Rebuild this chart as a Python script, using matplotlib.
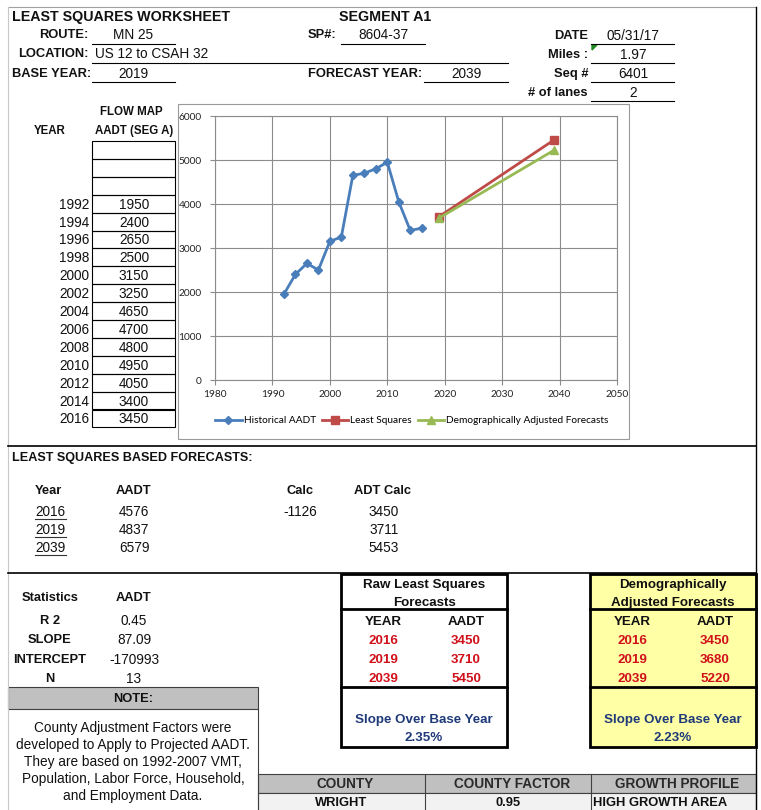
import matplotlib
matplotlib.use("Agg")
import matplotlib.pyplot as plt
from matplotlib.patches import Rectangle
from matplotlib.lines import Line2D

plt.rcParams['font.family'] = ['Liberation Sans', 'DejaVu Sans']

# ---- data ----
hist_years = [1992, 1994, 1996, 1998, 2000, 2002, 2004, 2006, 2008, 2010, 2012, 2014, 2016]
hist_aadt = [1950, 2400, 2650, 2500, 3150, 3250, 4650, 4700, 4800, 4950, 4050, 3400, 3450]
lsq_years = [2019, 2039]
lsq_aadt = [3711, 5453]
demo_years = [2019, 2039]
demo_aadt = [3680, 5220]

fc_years = ['2016', '2019', '2039']
fc_aadt = ['4576', '4837', '6579']
fc_adt_calc = ['3450', '3711', '5453']
calc_value = '-1126'

stat_names = ['R 2', 'SLOPE', 'INTERCEPT', 'N']
stat_values = ['0.45', '87.09', '-170993', '13']

raw_years = ['2016', '2019', '2039']
raw_aadt = ['3450', '3710', '5450']
demo_tab_aadt = ['3450', '3680', '5220']
raw_slope = '2.35%'
demo_slope = '2.23%'

header_fields = {
    'route': 'MN 25', 'sp': '8604-37', 'date': '05/31/17',
    'location': 'US 12 to CSAH 32', 'miles': '1.97',
    'base': '2019', 'forecast': '2039', 'seq': '6401', 'lanes': '2',
}

county_cols = ['COUNTY', 'COUNTY FACTOR', 'GROWTH PROFILE']
county_vals = ['WRIGHT', '0.95', 'HIGH GROWTH AREA']

note_lines = ['County Adjustment Factors were',
              'developed to Apply to Projected AADT.',
              'They are based on 1992-2007 VMT,',
              'Population, Labor Force, Household,',
              'and Employment Data.']

W, H = 761, 810
fig = plt.figure(figsize=(W / 100, H / 100), dpi=100)
bg = fig.add_axes([0, 0, 1, 1])
bg.set_xlim(0, W)
bg.set_ylim(H, 0)
bg.axis('off')

RED = '#d0101a'
NAVY = '#1f3a78'
LBL = 9.3   # bold labels
VAL = 9.8   # regular values
BOX = 9.6   # bold text in forecast boxes


def txt(x, y, s, ha='left', bold=False, size=None, color='#111111', **kw):
    if size is None:
        size = LBL if bold else VAL
    # +1 px: va='center' includes descender, nudge down to look centred
    bg.text(x, y + 1, s, ha=ha, va='center', fontsize=size, color=color,
            fontweight='bold' if bold else 'normal', **kw)


def hline(x0, x1, y, lw=0.8, color='black'):
    bg.add_line(Line2D([x0, x1], [y, y], lw=lw, color=color))


def vline(x, y0, y1, lw=0.8, color='black'):
    bg.add_line(Line2D([x, x], [y0, y1], lw=lw, color=color))


def rect(x0, y0, x1, y1, fc='none', ec='black', lw=0.8):
    bg.add_patch(Rectangle((x0, y0), x1 - x0, y1 - y0, fc=fc, ec=ec, lw=lw))


# outer frame
hline(8, 756, 7, color='#a0a0a0')
vline(8, 7, 810, color='#c8c8c8')
vline(756, 7, 810, lw=1.0)

# ---- header ----
txt(12, 16, 'LEAST SQUARES WORKSHEET', bold=True, size=10.3)
txt(385, 16, 'SEGMENT A1', ha='center', bold=True, size=10.3)

txt(89, 34, 'ROUTE:', ha='right', bold=True)
txt(133, 34, header_fields['route'], ha='center')
hline(92, 175, 44)
txt(336, 34, 'SP#:', ha='right', bold=True)
txt(383, 34, header_fields['sp'], ha='center')
hline(341, 425, 44)
txt(588, 35, 'DATE', ha='right', bold=True)
txt(633, 35, header_fields['date'], ha='center')
hline(591, 674, 44)

txt(89, 53, 'LOCATION:', ha='right', bold=True)
txt(95, 53, header_fields['location'])
hline(92, 508, 63)
txt(588, 54, 'Miles :', ha='right', bold=True)
txt(633, 54, header_fields['miles'], ha='center')
hline(591, 674, 63)
bg.add_patch(plt.Polygon([[592, 45], [597, 45], [592, 50]], color='#1f8a1f'))

txt(12, 73, 'BASE YEAR:', bold=True)
txt(133, 73, header_fields['base'], ha='center')
hline(92, 175, 82)
txt(422, 73, 'FORECAST YEAR:', ha='right', bold=True)
txt(466, 73, header_fields['forecast'], ha='center')
hline(424, 508, 82)
txt(588, 73, 'Seq #', ha='right', bold=True)
txt(633, 73, header_fields['seq'], ha='center')
hline(591, 674, 82)
txt(588, 92, '# of lanes', ha='right', bold=True)
txt(633, 92, header_fields['lanes'], ha='center')
hline(591, 674, 101)

# ---- flow map table ----
txt(131, 111, 'FLOW MAP', ha='center', bold=True, size=8.3)
txt(50, 130, 'YEAR', ha='center', bold=True, size=8.3)
txt(134, 130, 'AADT (SEG A)', ha='center', bold=True, size=8.3)
row_top = 141
row_h = 17.9
n_blank = 3
for i in range(n_blank + len(hist_years)):
    y0 = row_top + i * row_h
    rect(92, y0, 175, y0 + row_h)
for i, (yr, v) in enumerate(zip(hist_years, hist_aadt)):
    yc = row_top + (i + n_blank + 0.5) * row_h
    txt(89, yc, str(yr), ha='right')
    txt(134, yc, str(v), ha='center')

# ---- chart ----
rect(178, 104, 629, 439, ec='#9a9a9a')
ax = fig.add_axes([215 / W, 1 - 380 / H, (617 - 215) / W, (380 - 116) / H])
ax.plot(hist_years, hist_aadt, color='#4a7ebb', lw=2, marker='D', ms=4.5,
        label='Historical AADT')
ax.plot(lsq_years, lsq_aadt, color='#be4b48', lw=2, marker='s', ms=5.5,
        label='Least Squares')
ax.plot(demo_years, demo_aadt, color='#98b954', lw=2, marker='^', ms=6,
        label='Demographically Adjusted Forecasts')
ax.set_xlim(1980, 2050)
ax.set_ylim(0, 6000)
ax.set_xticks(range(1980, 2051, 10))
ax.set_yticks(range(0, 6001, 1000))
ax.grid(True, color='#8c8c8c', lw=0.8)
ax.set_axisbelow(True)
for s in ax.spines.values():
    s.set_color('#8c8c8c')
    s.set_linewidth(0.8)
ax.tick_params(length=3.5, width=0.8, color='#8c8c8c', labelsize=7.3,
               labelcolor='#222222')
ax.tick_params(axis='y', pad=6)
ax.tick_params(axis='x', pad=4)
for lab in ax.get_xticklabels() + ax.get_yticklabels():
    lab.set_family('Lato')
ax.legend(loc='center', bbox_to_anchor=(0.49, -0.155), ncol=3, frameon=False,
          prop={'family': 'Lato', 'size': 7.3}, handlelength=2.6,
          handletextpad=0.2, columnspacing=0.6, borderaxespad=0)

# ---- least squares based forecasts ----
hline(8, 756, 446, lw=1.2)
txt(12, 457, 'LEAST SQUARES BASED FORECASTS:', bold=True, size=9.1)
txt(35, 490, 'Year', bold=True)
txt(133, 490, 'AADT', ha='center', bold=True)
txt(300, 490, 'Calc', ha='center', bold=True)
txt(382, 490, 'ADT Calc', ha='center', bold=True)
for i, yr in enumerate(fc_years):
    y = 511 + i * 18
    txt(35, y, yr)
    hline(35, 66, y + 7.5, lw=0.8, color='#333333')
    txt(134, y, fc_aadt[i], ha='center')
    txt(384, y, fc_adt_calc[i], ha='center')
txt(300, 511, calc_value, ha='center')

# ---- statistics ----
hline(8, 756, 573, lw=1.2)
txt(50, 597, 'Statistics', ha='center', bold=True)
txt(133, 597, 'AADT', ha='center', bold=True)
for i, (n, v) in enumerate(zip(stat_names, stat_values)):
    y = 620 + i * 19.3
    txt(50, y, n, ha='center', bold=True)
    txt(134, y, v, ha='center')

# ---- note ----
rect(8, 687, 258, 709, fc='#c0c0c0', ec='#404040', lw=0.8)
txt(133, 698, 'NOTE:', ha='center', bold=True)
vline(258, 709, 810, color='#404040')
for i, line in enumerate(note_lines):
    txt(133, 727 + i * 17, line, ha='center')


# ---- forecast boxes ----
def forecast_box(x0, x1, title, aadt_vals, slope, fc):
    rect(x0, 574, x1, 747, fc=fc, lw=2)
    hline(x0, x1, 609, lw=2)
    hline(x0, x1, 687, lw=2)
    xc = (x0 + x1) / 2
    txt(xc, 584, title[0], ha='center', bold=True, size=BOX)
    txt(xc, 602, title[1], ha='center', bold=True, size=BOX)
    xa = x0 + 42
    xb = x0 + 125
    txt(xa, 621, 'YEAR', ha='center', bold=True, size=BOX)
    txt(xb, 621, 'AADT', ha='center', bold=True, size=BOX)
    for i in range(3):
        y = 640 + i * 19
        txt(xa, y, raw_years[i], ha='center', bold=True, color=RED, size=BOX)
        txt(xb, y, aadt_vals[i], ha='center', bold=True, color=RED, size=BOX)
    txt(xc, 719, 'Slope Over Base Year', ha='center', bold=True, color=NAVY, size=BOX)
    txt(xc, 737, slope, ha='center', bold=True, color=NAVY, size=BOX)


forecast_box(341, 507, ['Raw Least Squares', 'Forecasts'], raw_aadt, raw_slope, 'white')
forecast_box(590, 756, ['Demographically', 'Adjusted Forecasts'], demo_tab_aadt,
             demo_slope, '#ffffa6')

# ---- county table ----
col_x = [258, 425, 591, 756]
rect(258, 774, 756, 793, fc='#c0c0c0', ec='#404040')
rect(258, 793, 756, 812, fc='#f2f2f2', ec='#404040')
for xs in col_x[1:-1]:
    vline(xs, 774, 810, color='#404040')
for i, name in enumerate(county_cols):
    txt((col_x[i] + col_x[i + 1]) / 2 + 4, 783, name, ha='center', bold=True,
        size=9.8, color='#2a2a2a')
txt(341, 802, county_vals[0], ha='center', bold=True)
txt(508, 802, county_vals[1], ha='center', bold=True)
txt(593, 802, county_vals[2], bold=True)

fig.savefig('out.png', dpi=100)
